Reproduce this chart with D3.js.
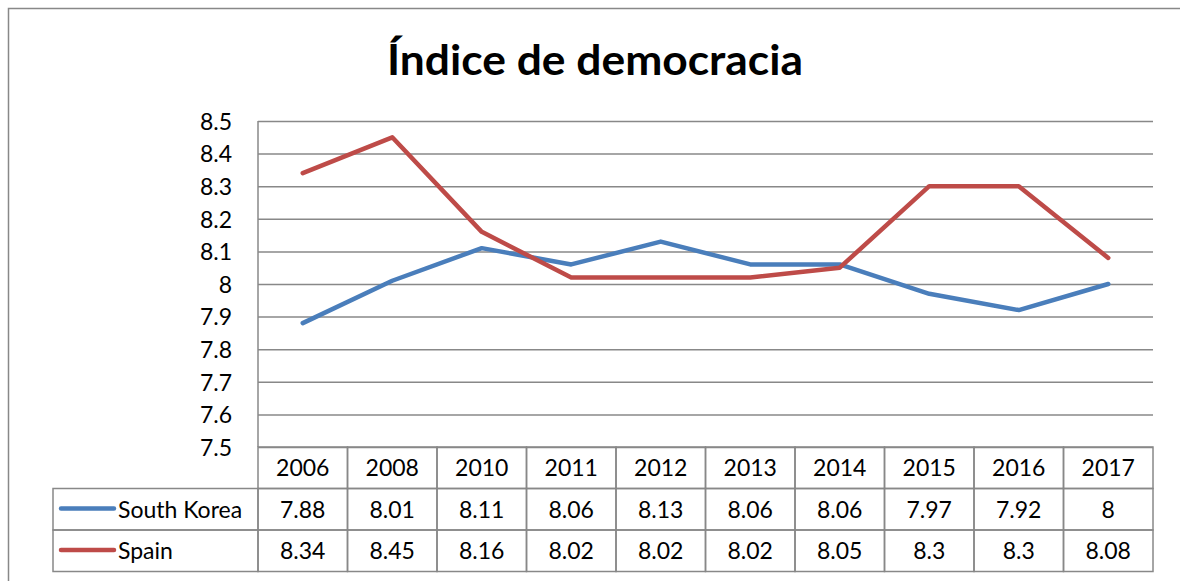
<!DOCTYPE html>
<html>
<head>
<meta charset="utf-8">
<script src="https://cdn.jsdelivr.net/npm/d3@7"></script>
<style>
  body { margin: 0; background: #fff; }
  text { font-family: Lato, "Open Sans", sans-serif; fill: #000; }
</style>
</head>
<body>
<script>
const WIDTH = 1180;
const HEIGHT = 581;

const years = ['2006', '2008', '2010', '2011', '2012', '2013', '2014', '2015', '2016', '2017'];
const southKorea = [7.88, 8.01, 8.11, 8.06, 8.13, 8.06, 8.06, 7.97, 7.92, 8];
const spain = [8.34, 8.45, 8.16, 8.02, 8.02, 8.02, 8.05, 8.3, 8.3, 8.08];
const yTicks = [7.5, 7.6, 7.7, 7.8, 7.9, 8, 8.1, 8.2, 8.3, 8.4, 8.5];

const series = [
  { name: 'South Korea', values: southKorea, color: '#4a7ebb' },
  { name: 'Spain', values: spain, color: '#be4b48' }
];

const PLOT_LEFT = 258, PLOT_RIGHT = 1153, PLOT_TOP = 121, PLOT_BOTTOM = 447;
const TABLE_LEFT = 53, ROW_H = 41.5;
const GRID = '#888';
const FS = 23;

const svg = d3.select('body')
    .append('svg')
    .attr('width', WIDTH)
    .attr('height', HEIGHT);

// outer chart frame (runs off the right/bottom edge)
svg.append('rect')
    .attr('x', 8.5)
    .attr('y', 8.5)
    .attr('width', 1200)
    .attr('height', 600)
    .attr('fill', 'none')
    .attr('stroke', GRID)
    .attr('stroke-width', 1.5);

svg.append('text')
    .attr('x', 595)
    .attr('y', 75)
    .attr('text-anchor', 'middle')
    .attr('font-size', 42)
    .attr('font-weight', 'bold')
    .attr('textLength', 416)
    .attr('lengthAdjust', 'spacingAndGlyphs')
    .text('Índice de democracia');

const x = d3.scaleBand()
    .domain(years)
    .range([PLOT_LEFT, PLOT_RIGHT]);

const y = d3.scaleLinear()
    .domain([7.5, 8.5])
    .range([PLOT_BOTTOM, PLOT_TOP]);

// gridlines + y labels
const yAxis = svg.append('g')
    .attr('transform', `translate(${PLOT_LEFT}, 0)`)
    .call(d3.axisLeft(y)
        .tickValues(yTicks)
        .tickFormat(d => d3.format('')(+d.toFixed(1)))
        .tickSize(-(PLOT_RIGHT - PLOT_LEFT))
        .tickPadding(26));
yAxis.select('.domain').remove();
yAxis.selectAll('.tick line')
    .attr('stroke', GRID)
    .attr('stroke-width', 1.5);
yAxis.selectAll('.tick text')
    .attr('font-size', FS)
    .attr('font-family', 'Lato, sans-serif')
    .attr('dy', '0.36em');

svg.append('line')
    .attr('x1', PLOT_LEFT).attr('x2', PLOT_LEFT)
    .attr('y1', PLOT_TOP).attr('y2', PLOT_BOTTOM)
    .attr('stroke', GRID)
    .attr('stroke-width', 1.5);

const line = d3.line()
    .x((d, i) => x(years[i]) + x.bandwidth() / 2)
    .y(d => y(d));

svg.selectAll('.series')
    .data(series)
    .join('path')
    .attr('class', 'series')
    .attr('d', d => line(d.values))
    .attr('fill', 'none')
    .attr('stroke', d => d.color)
    .attr('stroke-width', 4.5)
    .attr('stroke-linejoin', 'round')
    .attr('stroke-linecap', 'round');

// data table
const table = svg.append('g');

function cell(x0, y0, w, h) {
  table.append('rect')
      .attr('x', x0).attr('y', y0)
      .attr('width', w).attr('height', h)
      .attr('fill', 'none')
      .attr('stroke', GRID)
      .attr('stroke-width', 1.5);
}

years.forEach(yr => {
  cell(x(yr), PLOT_BOTTOM, x.bandwidth(), ROW_H);
  table.append('text')
      .attr('x', x(yr) + x.bandwidth() / 2)
      .attr('y', PLOT_BOTTOM + 29)
      .attr('text-anchor', 'middle')
      .attr('font-size', FS)
      .text(yr);
});

series.forEach((s, r) => {
  const top = PLOT_BOTTOM + ROW_H * (r + 1);
  cell(TABLE_LEFT, top, PLOT_LEFT - TABLE_LEFT, ROW_H);
  table.append('line')
      .attr('x1', 61).attr('x2', 114)
      .attr('y1', top + 20).attr('y2', top + 20)
      .attr('stroke', s.color)
      .attr('stroke-width', 4.5)
      .attr('stroke-linecap', 'round');
  table.append('text')
      .attr('x', 118)
      .attr('y', top + 29)
      .attr('font-size', FS)
      .text(s.name);
  s.values.forEach((v, i) => {
    cell(x(years[i]), top, x.bandwidth(), ROW_H);
    table.append('text')
        .attr('x', x(years[i]) + x.bandwidth() / 2)
        .attr('y', top + 29)
        .attr('text-anchor', 'middle')
        .attr('font-size', FS)
        .text(v);
  });
});
</script>
</body>
</html>
